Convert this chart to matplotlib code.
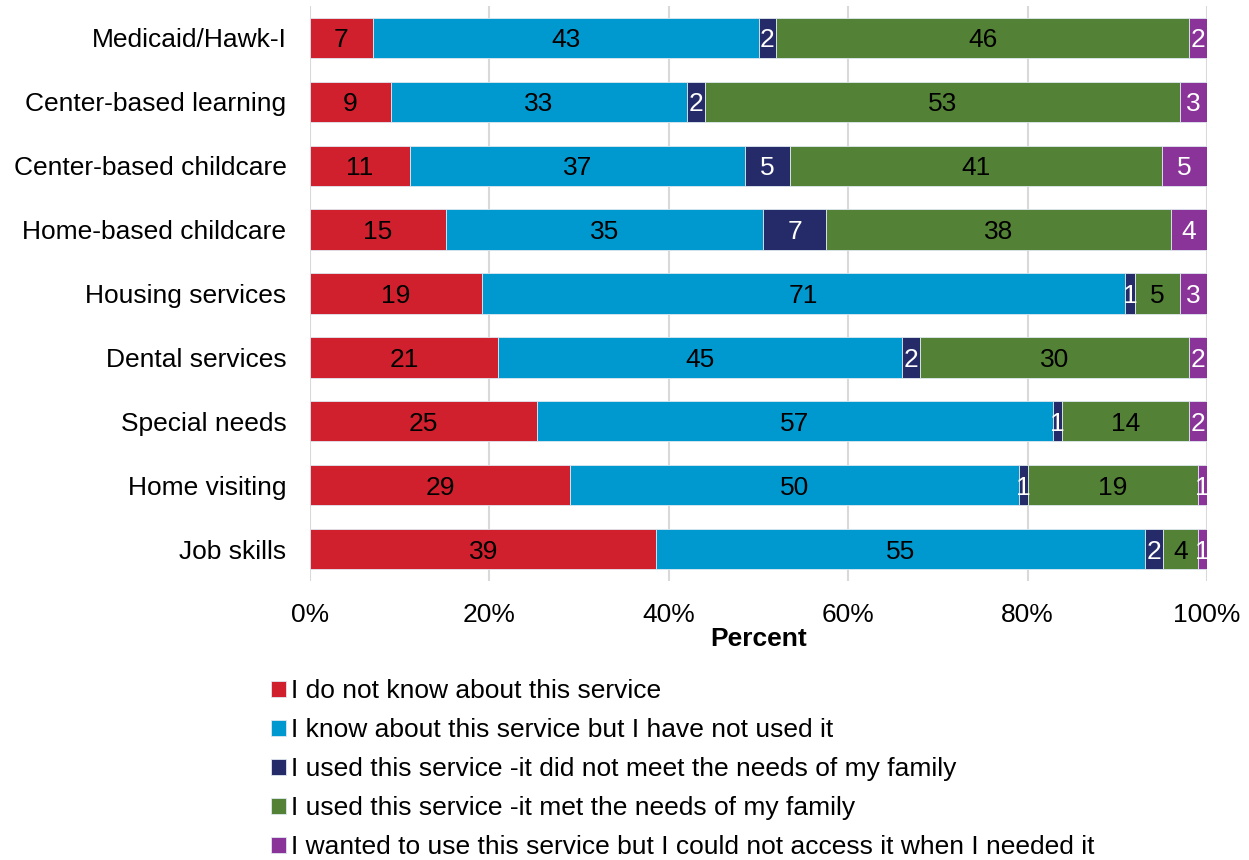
import matplotlib.pyplot as plt
import numpy as np

plt.rcParams['font.family'] = ['Liberation Sans', 'DejaVu Sans']

services = ['Medicaid/Hawk-I', 'Center-based learning', 'Center-based childcare',
            'Home-based childcare', 'Housing services', 'Dental services',
            'Special needs', 'Home visiting', 'Job skills']

dont_know = [7, 9, 11, 15, 19, 21, 25, 29, 39]
know_not_used = [43, 33, 37, 35, 71, 45, 57, 50, 55]
used_not_met = [2, 2, 5, 7, 1, 2, 1, 1, 2]
used_met = [46, 53, 41, 38, 5, 30, 14, 19, 4]
no_access = [2, 3, 5, 4, 3, 2, 2, 1, 1]

legend_labels = ['I do not know about this service',
                 'I know about this service but I have not used it',
                 'I used this service -it did not meet the needs of my family',
                 'I used this service -it met the needs of my family',
                 'I wanted to use this service but I could not access it when I needed it']
colors = ['#d0202e', '#0099cf', '#252b69', '#538135', '#8a3399']
text_colors = ['black', 'black', 'white', 'black', 'white']

series = np.array([dont_know, know_not_used, used_not_met, used_met, no_access], dtype=float)
shares = series / series.sum(axis=0) * 100

fs = 19

fig = plt.figure(figsize=(12.49, 8.6), dpi=100)
ax = fig.add_axes([310 / 1249, 1 - 581 / 860, 897 / 1249, 575 / 860])

y = np.arange(len(services))
left = np.zeros(len(services))
for vals, share, col, tcol, lab in zip(series, shares, colors, text_colors, legend_labels):
    ax.barh(y, share, left=left, height=0.63, color=col, edgecolor='#dfe8f0',
            linewidth=0.6, label=lab, zorder=3)
    for yi, (v, s, l) in enumerate(zip(vals, share, left)):
        ax.text(l + s / 2, yi, f'{v:.0f}', ha='center', va='center_baseline',
                color=tcol, fontsize=fs, zorder=4)
    left += share

ax.set_xlim(0, 100)
ax.set_ylim(len(services) - 0.5, -0.5)
ax.set_yticks(y)
ax.set_yticklabels(services, fontsize=fs)
ax.set_xticks(np.arange(0, 101, 20))
ax.set_xticklabels([f'{t}%' for t in range(0, 101, 20)], fontsize=fs)
ax.tick_params(axis='y', length=0, pad=17)
ax.tick_params(axis='x', length=0, pad=16)
ax.xaxis.grid(True, color='#d9d9d9', linewidth=1.5, zorder=0)
for sp in ax.spines.values():
    sp.set_visible(False)
ax.set_xlabel('Percent', fontsize=fs, fontweight='bold', labelpad=0)

fig.legend(loc='upper left', bbox_to_anchor=(271 / 1249, 1 - 679 / 860),
           frameon=False, fontsize=fs, handlelength=0.55, handleheight=0.55,
           handletextpad=0.2, labelspacing=0.57, borderaxespad=0, borderpad=0)

fig.savefig('out.png', dpi=100)
